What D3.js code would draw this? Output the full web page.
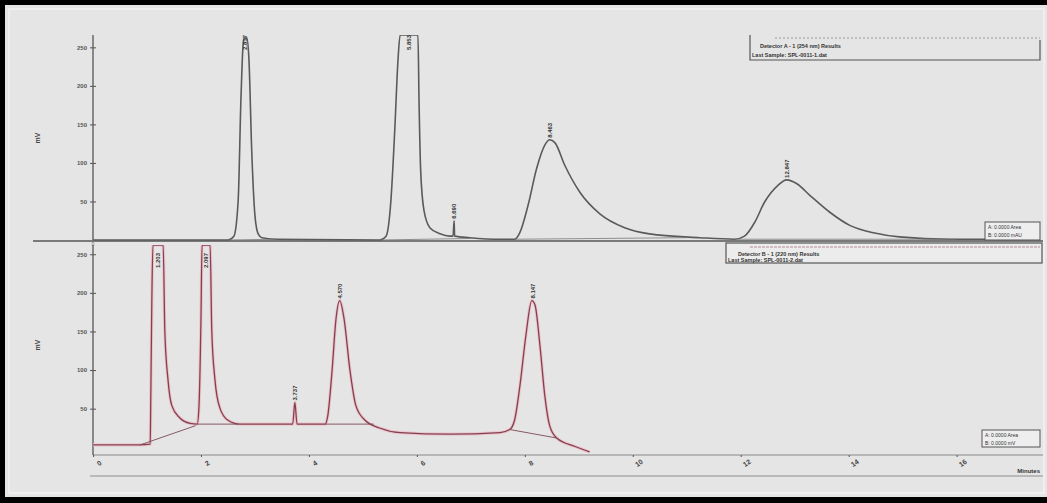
<!DOCTYPE html>
<html>
<head>
<meta charset="utf-8">
<script src="https://cdn.jsdelivr.net/npm/d3@7"></script>
<style>
  body { margin: 0; background: #000; }
  svg { display: block; font-family: "Liberation Sans", Arial, sans-serif; }
</style>
</head>
<body>
<div id="chart"></div>
<script>
// top trace (detector A), minutes / mV
var topTime = [0, 2.50, 2.61, 2.69, 2.74, 2.78, 2.80, 2.85, 2.89, 2.94, 3.00, 3.06, 3.13, 3.37,
  5.31, 5.43, 5.52, 5.59, 5.65, 5.69, 6.02, 6.04, 6.07, 6.13, 6.24, 6.43, 6.61, 6.67, 6.69, 6.70,
  6.98, 7.54, 7.81, 7.91, 8.06, 8.22, 8.37, 8.46, 8.56, 8.74, 9.02, 9.39, 9.85, 10.31, 11.24,
  11.89, 12.07, 12.26, 12.44, 12.69, 12.85, 13.04, 13.28, 13.65, 14.02, 14.48, 14.94, 15.87, 17.54];
var topSignal = [0, 0, 5, 52, 181, 253, 262, 262, 233, 117, 32, 8, 3, 1,
  0, 5, 52, 142, 233, 266, 266, 181, 91, 39, 16, 8, 5, 5, 25, 5,
  3, 1, 1, 10, 45, 93, 123, 130, 126, 97, 62, 34, 16, 8, 3,
  1, 5, 23, 49, 71, 78, 73, 58, 36, 19, 9, 4, 1, 1];

// bottom trace (detector B)
var botTime = [0, 0.87, 1.06, 1.07, 1.09, 1.11, 1.30, 1.33, 1.39, 1.46, 1.61, 1.80, 1.93, 1.96,
  2.00, 2.02, 2.17, 2.20, 2.26, 2.35, 2.50, 2.72, 3.70, 3.74, 3.78, 4.30, 4.35, 4.43, 4.50, 4.57,
  4.65, 4.76, 4.87, 5.04, 5.31, 5.69, 6.61, 7.54, 7.72, 7.81, 7.91, 8.02, 8.13, 8.19, 8.28, 8.37,
  8.46, 8.59, 8.93, 9.20];
var botSignal = [3, 3, 4, 61, 190, 262, 262, 152, 87, 54, 38, 31, 30, 48,
  165, 262, 262, 152, 87, 51, 35, 30, 30, 58, 30, 30, 41, 100, 165, 190,
  167, 100, 54, 35, 25, 19, 17, 19, 23, 35, 80, 145, 190, 184, 132, 67,
  28, 12, 1, -6];

// integration baselines [t0, v0, t1, v1]
var topBaselines = [[2.50, 0, 3.40, 1], [5.31, 0, 7.00, 2], [7.81, 1, 11.0, 3], [11.89, 1, 16.0, 1]];
var botBaselines = [[0.87, 3, 1.90, 28], [1.93, 30, 2.70, 30], [4.30, 30, 5.20, 30], [7.72, 23, 8.59, 12]];

// peak labels
var topPeaks = [[2.82, 262, "2.817"], [5.85, 266, "5.853"], [6.69, 25, "6.690"], [8.46, 130, "8.463"], [12.85, 78, "12.847"]];
var botPeaks = [[1.20, 262, "1.203"], [2.10, 262, "2.097"], [3.74, 58, "3.737"], [4.57, 190, "4.570"], [8.15, 190, "8.147"]];

var yTicks = [50, 100, 150, 200, 250];
var xTicks = [0, 2, 4, 6, 8, 10, 12, 14, 16];

var W = 1047, H = 503;
var svg = d3.select("#chart").append("svg").attr("width", W).attr("height", H);

svg.append("rect").attr("width", W).attr("height", H).attr("fill", "#000");
svg.append("rect").attr("x", 5).attr("y", 5).attr("width", W - 5).attr("height", 492).attr("fill", "#e5e5e5");
svg.append("rect").attr("x", 9).attr("y", 9).attr("width", W - 12).attr("height", 484)
  .attr("fill", "none").attr("stroke", "#f2f2f2").attr("stroke-width", 1.5);

var x = d3.scaleLinear().domain([0, 17.6]).range([93, 1043]);
var yTop = d3.scaleLinear().domain([0, 266]).range([240, 35]);
var yBot = d3.scaleLinear().domain([-10, 262]).range([455, 245]);

svg.append("clipPath").attr("id", "clipTop").append("rect")
  .attr("x", 33).attr("y", 35).attr("width", 1010).attr("height", 206);
svg.append("clipPath").attr("id", "clipBot").append("rect")
  .attr("x", 93).attr("y", 245).attr("width", 950).attr("height", 211);

// ---- top panel
var gTop = svg.append("g");
gTop.append("line").attr("x1", 33).attr("x2", 1043).attr("y1", yTop(0) + 1).attr("y2", yTop(0) + 1)
  .attr("stroke", "#555").attr("stroke-width", 1.5);
var topAxis = gTop.append("g").attr("transform", "translate(93,0)")
  .call(d3.axisLeft(yTop).tickValues(yTicks).tickSize(3).tickPadding(3));
topAxis.select(".domain").attr("d", "M0,35V" + yTop(0)).attr("stroke", "#555").attr("stroke-width", 1.3);
topAxis.selectAll(".tick line").attr("stroke", "#555").attr("x2", 3).attr("x1", -3);
topAxis.selectAll("text").attr("font-size", 6).attr("font-weight", "bold").attr("fill", "#555");
gTop.append("text").attr("transform", "translate(40,138) rotate(-90)")
  .attr("text-anchor", "middle").attr("font-size", 7).attr("font-weight", "bold").attr("fill", "#444").text("mV");
gTop.append("text").attr("x", 93).attr("y", 246).attr("font-size", 5).attr("fill", "#666").attr("text-anchor", "middle").text("0");

var lineTop = d3.line().x((d, i) => x(topTime[i])).y(d => yTop(d)).curve(d3.curveMonotoneX);
gTop.append("g").attr("clip-path", "url(#clipTop)").append("path")
  .attr("d", lineTop(topSignal)).attr("fill", "none").attr("stroke", "#5a5a5a").attr("stroke-width", 1.6);
gTop.selectAll(".bl").data(topBaselines).enter().append("line")
  .attr("x1", d => x(d[0])).attr("y1", d => yTop(d[1]))
  .attr("x2", d => x(d[2])).attr("y2", d => yTop(d[3]))
  .attr("stroke", "#777").attr("stroke-width", 0.8);
gTop.selectAll(".pk").data(topPeaks).enter().append("text")
  .attr("transform", d => "translate(" + (x(d[0]) + 2) + "," + Math.max(yTop(d[1]) - 2, 50) + ") rotate(-90)")
  .attr("font-size", 6).attr("font-weight", "bold").attr("fill", "#333").text(d => d[2]);

// legend boxes (top)
var legTop = gTop.append("g");
legTop.append("path").attr("d", "M750,35V60H1040V40").attr("fill", "none").attr("stroke", "#555").attr("stroke-width", 1.2);
legTop.append("line").attr("x1", 775).attr("x2", 1040).attr("y1", 38).attr("y2", 38)
  .attr("stroke", "#999").attr("stroke-dasharray", "2,2");
legTop.append("text").attr("x", 760).attr("y", 48).attr("font-size", 5.5).attr("font-weight", "bold").attr("fill", "#333").text("Detector A - 1 (254 nm) Results");
legTop.append("text").attr("x", 752).attr("y", 57).attr("font-size", 5.5).attr("font-weight", "bold").attr("fill", "#333").text("Last Sample: SPL-0011-1.dat");
legTop.append("rect").attr("x", 985).attr("y", 222).attr("width", 55).attr("height", 18)
  .attr("fill", "#eee").attr("stroke", "#555");
legTop.append("text").attr("x", 988).attr("y", 229).attr("font-size", 5).attr("fill", "#333").text("A: 0.0000 Area");
legTop.append("text").attr("x", 988).attr("y", 237).attr("font-size", 5).attr("fill", "#333").text("B: 0.0000 mAU");

// ---- bottom panel
var gBot = svg.append("g");
gBot.append("line").attr("x1", 93).attr("x2", 1043).attr("y1", 455).attr("y2", 455)
  .attr("stroke", "#888").attr("stroke-width", 1);
gBot.append("line").attr("x1", 90).attr("x2", 1043).attr("y1", 476).attr("y2", 476)
  .attr("stroke", "#aaa").attr("stroke-width", 1.5);
var botAxis = gBot.append("g").attr("transform", "translate(93,0)")
  .call(d3.axisLeft(yBot).tickValues(yTicks).tickSize(3).tickPadding(3));
botAxis.select(".domain").attr("d", "M0,245V455").attr("stroke", "#555").attr("stroke-width", 1.3);
botAxis.selectAll(".tick line").attr("stroke", "#555").attr("x2", 3).attr("x1", -3);
botAxis.selectAll("text").attr("font-size", 6).attr("font-weight", "bold").attr("fill", "#555");
gBot.append("text").attr("transform", "translate(40,345) rotate(-90)")
  .attr("text-anchor", "middle").attr("font-size", 7).attr("font-weight", "bold").attr("fill", "#444").text("mV");

var xAxis = gBot.append("g").attr("transform", "translate(0,455)")
  .call(d3.axisBottom(x).tickValues(xTicks).tickSize(2).tickPadding(4));
xAxis.select(".domain").remove();
xAxis.selectAll(".tick line").attr("stroke", "#555");
xAxis.selectAll("text").attr("font-size", 7).attr("fill", "#444").attr("font-weight", "bold")
  .attr("transform", "rotate(-35)").attr("dy", "0.9em");
gBot.append("text").attr("x", 1040).attr("y", 473).attr("text-anchor", "end")
  .attr("font-size", 6).attr("font-weight", "bold").attr("fill", "#333").text("Minutes");

var lineBot = d3.line().x((d, i) => x(botTime[i])).y(d => yBot(d)).curve(d3.curveMonotoneX);
var botClip = gBot.append("g").attr("clip-path", "url(#clipBot)");
botClip.append("path").attr("d", lineBot(botSignal)).attr("fill", "none")
  .attr("stroke", "#ebc3cc").attr("stroke-width", 3.2);
botClip.append("path").attr("d", lineBot(botSignal)).attr("fill", "none")
  .attr("stroke", "#84404f").attr("stroke-width", 1.3);
gBot.selectAll(".bl").data(botBaselines).enter().append("line")
  .attr("x1", d => x(d[0])).attr("y1", d => yBot(d[1]))
  .attr("x2", d => x(d[2])).attr("y2", d => yBot(d[3]))
  .attr("stroke", "#7a4a55").attr("stroke-width", 0.9);
gBot.selectAll(".pk").data(botPeaks).enter().append("text")
  .attr("transform", d => "translate(" + (x(d[0]) + 2) + "," + Math.max(yBot(d[1]) - 2, 268) + ") rotate(-90)")
  .attr("font-size", 6).attr("font-weight", "bold").attr("fill", "#333").text(d => d[2]);

var legBot = gBot.append("g");
legBot.append("rect").attr("x", 726).attr("y", 243).attr("width", 316).attr("height", 20)
  .attr("fill", "#ececec").attr("stroke", "#555").attr("stroke-width", 1.2);
legBot.append("line").attr("x1", 750).attr("x2", 1040).attr("y1", 247).attr("y2", 247)
  .attr("stroke", "#b98a96").attr("stroke-dasharray", "3,1");
legBot.append("text").attr("x", 738).attr("y", 256).attr("font-size", 5.5).attr("font-weight", "bold").attr("fill", "#333").text("Detector B - 1 (220 nm) Results");
legBot.append("text").attr("x", 728).attr("y", 262).attr("font-size", 5.5).attr("font-weight", "bold").attr("fill", "#333").text("Last Sample: SPL-0011-2.dat");
legBot.append("rect").attr("x", 982).attr("y", 430).attr("width", 58).attr("height", 17)
  .attr("fill", "#eee").attr("stroke", "#555");
legBot.append("text").attr("x", 985).attr("y", 437).attr("font-size", 5).attr("fill", "#333").text("A: 0.0000 Area");
legBot.append("text").attr("x", 985).attr("y", 445).attr("font-size", 5).attr("fill", "#333").text("B: 0.0000 mV");
</script>
</body>
</html>
